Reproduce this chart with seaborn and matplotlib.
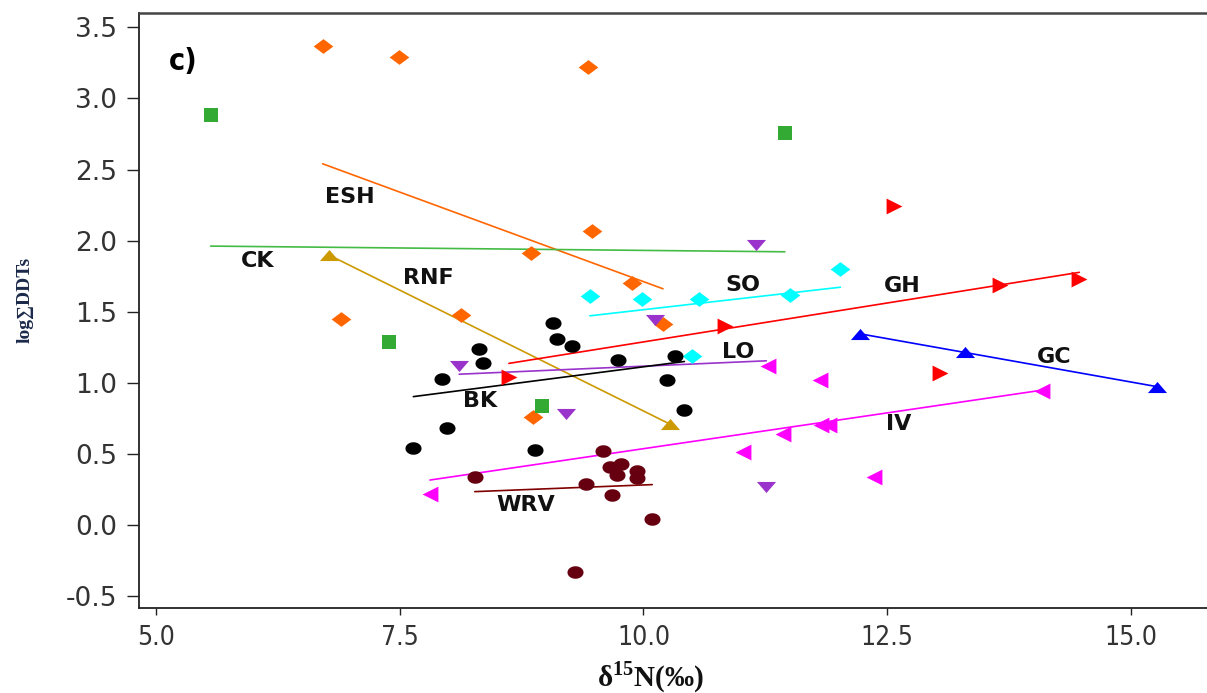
import numpy as np
import matplotlib
matplotlib.use("Agg")
import matplotlib.pyplot as plt
from matplotlib.path import Path
import seaborn as sns

# ---------------- data ----------------
ESH_x = [6.71, 7.49, 9.43, 9.47, 8.85, 9.88, 10.20, 8.13, 6.90, 8.87]
ESH_y = [3.37, 3.29, 3.22, 2.07, 1.91, 1.70, 1.41, 1.48, 1.45, 0.76]
CK_x = [5.56, 11.45, 7.39, 8.96]
CK_y = [2.88, 2.76, 1.29, 0.84]
RNF_x = [6.77, 10.27]
RNF_y = [1.90, 0.71]
SO_x = [9.45, 9.99, 10.57, 11.50, 12.02, 10.50]
SO_y = [1.61, 1.59, 1.59, 1.62, 1.80, 1.19]
GH_x = [8.62, 10.84, 12.57, 13.04, 13.66, 14.47]
GH_y = [1.04, 1.40, 2.24, 1.07, 1.69, 1.73]
GC_x = [12.22, 13.30, 15.27]
GC_y = [1.34, 1.22, 0.97]
IV_x = [7.81, 11.28, 11.81, 14.09, 11.43, 11.82, 11.90, 11.02, 12.36]
IV_y = [0.22, 1.12, 1.02, 0.94, 0.64, 0.70, 0.70, 0.51, 0.34]
LO_x = [8.11, 10.12, 11.15, 9.21, 11.26]
LO_y = [1.12, 1.44, 1.97, 0.78, 0.27]
BK_x = [7.64, 7.93, 7.98, 8.31, 8.35, 8.89, 9.07, 9.11, 9.27, 9.74, 10.24, 10.32, 10.42]
BK_y = [0.54, 1.03, 0.68, 1.24, 1.14, 0.53, 1.42, 1.31, 1.26, 1.16, 1.02, 1.19, 0.81]
WRV_x = [8.27, 9.30, 9.41, 9.59, 9.66, 9.68, 9.73, 9.77, 9.93, 9.93, 10.09]
WRV_y = [0.34, -0.33, 0.29, 0.52, 0.41, 0.21, 0.35, 0.43, 0.38, 0.33, 0.04]

group_names = ["ESH", "CK", "RNF", "SO", "GH", "GC", "IV", "LO", "BK", "WRV"]
label_x = [6.99, 6.04, 7.79, 11.02, 12.65, 14.21, 12.62, 10.97, 8.32, 8.79]
label_y = [2.31, 1.86, 1.735, 1.69, 1.68, 1.18, 0.71, 1.22, 0.87, 0.14]

x_ticks = [5.0, 7.5, 10.0, 12.5, 15.0]
y_ticks = [-0.5, 0.0, 0.5, 1.0, 1.5, 2.0, 2.5, 3.0, 3.5]

# ---------------- styling ----------------
sns.set_style("ticks")
plt.rcParams["font.family"] = ["DejaVu Sans"]
plt.rcParams["mathtext.fontset"] = "custom"
plt.rcParams["mathtext.bf"] = "Liberation Serif:bold"
plt.rcParams["mathtext.rm"] = "Liberation Serif:bold"

def closed(verts):
    return Path(verts + [verts[0]], closed=True)

diamond = closed([(-1, 0), (0, 0.75), (1, 0), (0, -0.75)])
tri_up = closed([(-1, -0.58), (1, -0.58), (0, 0.58)])
tri_down = closed([(-1, 0.58), (1, 0.58), (0, -0.58)])
t = np.linspace(0, 2 * np.pi, 25)[:-1]
ellipse = closed([(float(np.cos(a)), float(0.78 * np.sin(a))) for a in t])

groups = {
    "ESH": (ESH_x, ESH_y, "#FF6600", "#FF6600", diamond, 200),
    "CK": (CK_x, CK_y, "#33AA33", "#44BB44", "s", 110),
    "RNF": (RNF_x, RNF_y, "#CC9900", "#CC9900", tri_up, 190),
    "SO": (SO_x, SO_y, "#00FFFF", "#00FFFF", diamond, 200),
    "GH": (GH_x, GH_y, "#FF0000", "#FF0000", ">", 130),
    "GC": (GC_x, GC_y, "#0000FF", "#0000FF", tri_up, 190),
    "IV": (IV_x, IV_y, "#FF00FF", "#FF00FF", "<", 130),
    "LO": (LO_x, LO_y, "#9933CC", "#9933CC", tri_down, 190),
    "BK": (BK_x, BK_y, "#000000", "#000000", ellipse, 135),
    "WRV": (WRV_x, WRV_y, "#660011", "#800000", ellipse, 135),
}

fig = plt.figure(figsize=(12.07, 6.93), dpi=100)
ax = fig.add_axes([139 / 1207, 1 - 608 / 693, (1207 - 139) / 1207, (608 - 12.7) / 693])

# regression lines
for name in group_names:
    gx, gy, mc, lc, mk, s = groups[name]
    sns.regplot(x=np.array(gx), y=np.array(gy), ax=ax, scatter=False, ci=None,
                truncate=True, line_kws=dict(color=lc, lw=1.2, zorder=2))

# points
for name in group_names:
    gx, gy, mc, lc, mk, s = groups[name]
    sns.scatterplot(x=gx, y=gy, ax=ax, marker=mk, s=s, color=mc,
                    edgecolor=mc, linewidth=0, zorder=3)

# group labels
for name, lx, ly in zip(group_names, label_x, label_y):
    ax.text(lx, ly, name, ha="center", va="center", fontsize=16,
            fontweight="bold", color="#111111", zorder=4)

ax.text(0.041, 0.918, "c)", transform=ax.transAxes, ha="center",
        va="center", fontsize=22, fontweight="bold", fontstretch="condensed",
        color="#000000")

ax.set_xlim(4.826, 15.78)
ax.set_ylim(-0.584, 3.603)
ax.set_xticks(x_ticks)
ax.set_xticklabels([f"{v:.1f}" for v in x_ticks], fontstretch="condensed")
ax.set_yticks(y_ticks)
ax.set_yticklabels([f"{v:.1f}" for v in y_ticks])

ax.tick_params(axis="y", length=8.5, width=1.0, pad=7, labelsize=19,
               labelcolor="#333333", color="#222222", direction="out")
ax.tick_params(axis="x", length=5, width=1.0, pad=7, labelsize=19,
               labelcolor="#333333", color="#222222", direction="out")

for side in ["left", "bottom"]:
    ax.spines[side].set_color("#222222")
    ax.spines[side].set_linewidth(1.3)
ax.spines["top"].set_color("#444444")
ax.spines["top"].set_linewidth(1.8)
ax.spines["right"].set_visible(False)

ax.set_xlabel("δ$^{15}$N(‰)", fontsize=21, fontweight="bold",
              family=["Liberation Serif", "DejaVu Serif"], color="#111111")
ax.xaxis.set_label_coords((650 - 139) / 1068, (608 - 677) / 595.3)
ax.xaxis.label.set_va("center")

ax.set_ylabel("log∑DDTs", fontsize=14, fontweight="bold",
              family=["Liberation Serif", "DejaVu Serif"], color="#1b2a4a")
ax.yaxis.set_label_coords((25 - 139) / 1068, (608 - 300) / 595.3)
ax.yaxis.label.set_va("center")

fig.savefig("out.png", dpi=100)
